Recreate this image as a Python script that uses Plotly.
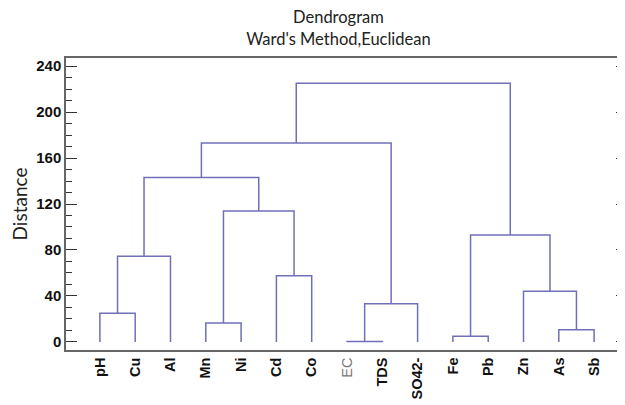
import plotly.graph_objects as go

# Leaves in dendrogram order
leaves = ["pH", "Cu", "Al", "Mn", "Ni", "Cd", "Co", "EC", "TDS", "SO42-",
          "Fe", "Pb", "Zn", "As", "Sb"]
# Merges: (left member, right member, distance); members are leaf names or cluster ids "c#"
merge_left = ["pH", "c1", "Mn", "Cd", "c3", "c2", "EC", "c7", "c6", "Fe", "As", "Zn", "c10", "c9"]
merge_right = ["Cu", "Al", "Ni", "Co", "c4", "c5", "TDS", "SO42-", "c8", "Pb", "Sb", "c11", "c12", "c13"]
merge_height = [25, 74.5, 16.5, 57.5, 114, 143, 0.3, 33.3, 173, 5, 10.7, 44, 93, 225]

y_ticks = [0, 40, 80, 120, 160, 200, 240]

pos = {name: i + 1 for i, name in enumerate(leaves)}
hgt = {name: 0.0 for name in leaves}
xs, ys = [], []
for k, (a, b, h) in enumerate(zip(merge_left, merge_right, merge_height), start=1):
    xa, xb = pos[a], pos[b]
    xs += [xa, xa, xb, xb, None]
    ys += [hgt[a], h, h, hgt[b], None]
    cid = "c%d" % k
    pos[cid] = (xa + xb) / 2
    hgt[cid] = h

line_color = "rgb(112,112,184)"
fig = go.Figure()
fig.add_trace(go.Scatter(x=xs, y=ys, mode="lines",
                         line=dict(color=line_color, width=1.5),
                         hoverinfo="skip", showlegend=False))
# invisible trace for right-side ticks
fig.add_trace(go.Scatter(x=[1], y=[0], yaxis="y2", mode="markers",
                         marker=dict(opacity=0), showlegend=False, hoverinfo="skip"))

ticktext = []
for name in leaves:
    if name == "EC":
        ticktext.append("<span style='color:#777777'>EC</span>")
    else:
        ticktext.append("<b>%s</b>" % name)

axis_gray = "#666666"
W, H = 617, 397
fig.update_layout(
    width=W, height=H,
    margin=dict(l=58, r=3, t=50, b=55, autoexpand=False),
    paper_bgcolor="white", plot_bgcolor="white",
    title=dict(text="Dendrogram<br>Ward's Method,Euclidean",
               x=0.49, xref="paper", xanchor="center",
               y=0.962, yref="container", yanchor="top",
               font=dict(family="Lato", size=16.5, color="#222222")),
    xaxis=dict(range=[0.04, 15.79], tickmode="array", automargin=False,
               tickvals=list(range(1, len(leaves) + 1)), ticktext=ticktext,
               tickangle=-90, ticks="", showgrid=False, zeroline=False,
               showline=True, linecolor=axis_gray, linewidth=1.5, mirror=True,
               tickfont=dict(family="Liberation Sans", size=14.5, color="#111111")),
    yaxis=dict(range=[-7, 247], tickmode="array", tickvals=y_ticks, automargin=False,
               ticktext=["<b>%d</b>" % v for v in y_ticks],
               ticks="inside", ticklen=11, tickwidth=1.2, tickcolor="#333333",
               minor=dict(dtick=10, tick0=0, ticks="inside", ticklen=6,
                          tickcolor="#333333", tickwidth=1),
               showgrid=False, zeroline=False, showline=True,
               linecolor=axis_gray, linewidth=1.5,
               tickfont=dict(family="Liberation Sans", size=15, color="#111111"),
               title=dict(text="Distance", standoff=6,
                          font=dict(family="Lato", size=19, color="#222222"))),
    yaxis2=dict(range=[-7, 247], overlaying="y", side="right", automargin=False,
                tickmode="array", tickvals=y_ticks, showticklabels=False,
                ticks="inside", ticklen=6, tickwidth=1.2, tickcolor="#333333",
                minor=dict(dtick=10, tick0=0, ticks="inside", ticklen=3,
                           tickcolor="#333333", tickwidth=1),
                showgrid=False, zeroline=False, showline=False),
)

fig.write_html("out.html")
